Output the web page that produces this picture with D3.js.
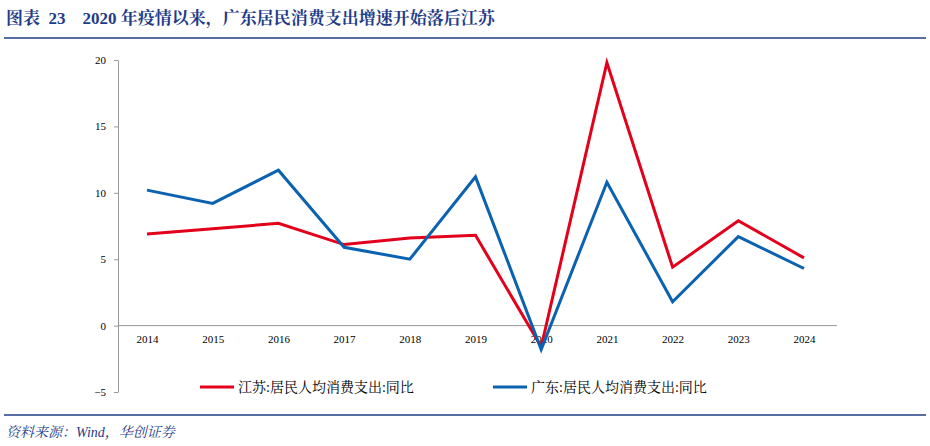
<!DOCTYPE html><html><head><meta charset="utf-8">
<script src="https://cdn.jsdelivr.net/npm/d3@7"></script>
<style>body{margin:0;background:#fff} text{white-space:pre}</style></head><body><svg id="c" width="930" height="446"></svg>
<script>
const years=["2014","2015","2016","2017","2018","2019","2020","2021","2022","2023","2024"];
const jiangsu=[6.9,7.3,7.7,6.1,6.6,6.8,-1.6,19.8,4.4,7.9,5.1];
const guangdong=[10.2,9.2,11.7,5.9,5.0,11.2,-1.8,10.8,1.8,6.7,4.3];
const yTicks=[-5,0,5,10,15,20];
const svg=d3.select("#c");
const serif="'Times New Roman','Liberation Serif','Noto Serif CJK SC','Noto Sans CJK SC',serif";
svg.append("text").attr("x",6).attr("y",24).attr("font-size",17).attr("font-weight","bold").attr("fill","#1f3c88")
 .attr("font-family",serif).text("图表  23    2020 年疫情以来，广东居民消费支出增速开始落后江苏");
svg.append("line").attr("x1",4).attr("x2",926).attr("y1",38).attr("y2",38).attr("stroke","#1f3c88").attr("stroke-width",1.5);
svg.append("line").attr("x1",4).attr("x2",926).attr("y1",415).attr("y2",415).attr("stroke","#1f3c88").attr("stroke-width",1.5);
svg.append("text").attr("x",6).attr("y",437).attr("font-size",14).attr("font-style","italic").attr("fill","#1f3c88")
 .attr("font-family",serif).text("资料来源：Wind，华创证券");
const x=d3.scalePoint().domain(years).range([147,804]);
const y=d3.scaleLinear().domain([-5,20]).range([392,60]);
const ya=d3.axisLeft(y).tickValues(yTicks).tickSize(0).tickPadding(12);
const gy=svg.append("g").attr("transform","translate(118,0)").call(ya);
gy.select(".domain").attr("stroke","#999");
gy.selectAll("text").attr("font-family",serif).attr("font-size",11).attr("fill","#000");
gy.selectAll(".tick").append("line").attr("x2",-4).attr("stroke","#999");
const xa=d3.axisBottom(x).tickSize(0).tickPadding(10);
const gx=svg.append("g").attr("transform",`translate(0,${y(0)})`).call(xa);
gx.select(".domain").attr("d",`M118,0H837`).attr("stroke","#999");
gx.selectAll("text").attr("font-family",serif).attr("font-size",11).attr("fill","#000");
const line=d3.line().x((d,i)=>x(years[i])).y(d=>y(d));
svg.append("path").datum(jiangsu).attr("d",line).attr("fill","none").attr("stroke","#e3001b").attr("stroke-width",3);
svg.append("path").datum(guangdong).attr("d",line).attr("fill","none").attr("stroke","#0a62b0").attr("stroke-width",3);
const lg=[["江苏:居民人均消费支出:同比","#e3001b",200],["广东:居民人均消费支出:同比","#0a62b0",493]];
lg.forEach(([t,c,lx])=>{
 svg.append("line").attr("x1",lx).attr("x2",lx+34).attr("y1",387).attr("y2",387).attr("stroke",c).attr("stroke-width",3);
 svg.append("text").attr("x",lx+38).attr("y",392).attr("font-size",14).attr("font-family",serif).text(t);
});
</script></body></html>
